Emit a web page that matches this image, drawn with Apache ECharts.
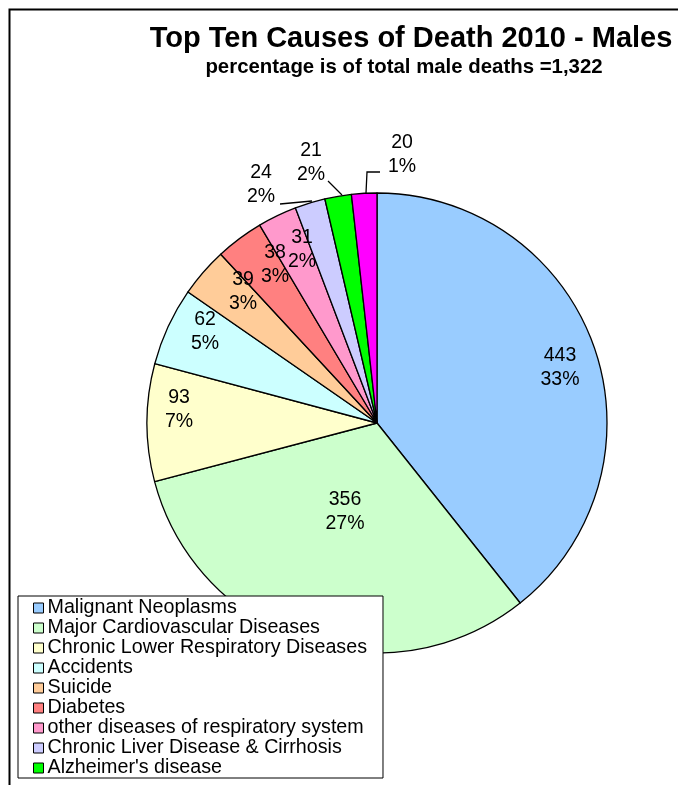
<!DOCTYPE html>
<html>
<head>
<meta charset="utf-8">
<script src="https://cdn.jsdelivr.net/npm/echarts@6/dist/echarts.min.js"></script>
<style>
  html, body { margin: 0; padding: 0; background: #fff; }
  #main { width: 678px; height: 785px; }
</style>
</head>
<body>
<div id="main"></div>
<script>
// chart data
var causes = [
  "Malignant Neoplasms",
  "Major Cardiovascular Diseases",
  "Chronic Lower Respiratory Diseases",
  "Accidents",
  "Suicide",
  "Diabetes",
  "other diseases of respiratory system",
  "Chronic Liver Disease & Cirrhosis",
  "Alzheimer's disease",
  "Influenza & Pneumonia"
];
var deaths = [443, 356, 93, 62, 39, 38, 31, 24, 21, 20];
var pctLabels = ["33%", "27%", "7%", "5%", "3%", "3%", "2%", "2%", "2%", "1%"];
var legendShown = causes.slice(0, 9);

var colors = ["#99CCFF", "#CCFFCC", "#FFFFCC", "#CCFFFF", "#FFCC99",
              "#FF8080", "#FF99CC", "#CCCCFF", "#00FF00", "#FF00FF"];

// label placement (pixel centres), Excel "best fit" style
var labelAt = [
  [560, 368], [345, 512], [179, 410], [205, 332], [243, 292],
  [275, 265], [302, 250], [261, 185], [311, 163], [402, 155]
];
// leader lines for the three labels outside the pie
var leaders = {
  7: [[280, 204], [312, 201]],
  8: [[328, 181], [342, 195]],
  9: [[380, 172], [367, 172], [366, 193]]
};

var font = "'Liberation Sans', Arial, sans-serif";

var chart = echarts.init(document.getElementById("main"));

var option = {
  backgroundColor: "#fff",
  animation: false,
  color: colors,
  title: [
    {
      text: "Top Ten Causes of Death 2010 - Males",
      left: 411, top: 22, textAlign: "center", padding: 0,
      textStyle: { fontFamily: font, fontWeight: "bold", fontSize: 29, color: "#000", lineHeight: 34 }
    },
    {
      text: "percentage is of total male deaths =1,322",
      left: 404, top: 55, textAlign: "center", padding: 0,
      textStyle: { fontFamily: font, fontWeight: "bold", fontSize: 20.4, color: "#000", lineHeight: 24 }
    }
  ],
  graphic: [
    {
      type: "rect", left: 7, top: 7, z: -1,
      shape: { width: 720, height: 820 },
      style: { fill: "none", stroke: "#000", lineWidth: 2 }
    }
  ],
  legend: {
    data: legendShown,
    orient: "vertical",
    align: "left",
    left: 18, top: 596,
    padding: [2, 16, 0, 15],
    itemGap: 0,
    itemWidth: 10, itemHeight: 10,
    icon: "rect",
    backgroundColor: "#fff",
    borderColor: "#000",
    borderWidth: 1,
    itemStyle: { borderColor: "#000", borderWidth: 1 },
    textStyle: { fontFamily: font, fontSize: 19.7, color: "#000", lineHeight: 19.6, padding: [0, 0, 0, -1] }
  },
  series: [
    {
      type: "pie",
      center: [377, 423],
      radius: 230,
      startAngle: 90,
      clockwise: true,
      avoidLabelOverlap: false,
      itemStyle: { borderColor: "#000", borderWidth: 1.3 },
      emphasis: { disabled: true },
      label: {
        show: true,
        position: "outside",
        fontFamily: font,
        fontSize: 19.5,
        lineHeight: 24,
        color: "#000",
        align: "center",
        formatter: function (p) { return p.value + "\n" + pctLabels[p.dataIndex]; }
      },
      labelLine: { show: false, lineStyle: { color: "#000", width: 1.3 } },
      labelLayout: function (p) {
        var i = p.dataIndex;
        var out = { x: labelAt[i][0], y: labelAt[i][1], align: "center", verticalAlign: "middle" };
        if (leaders[i]) out.labelLinePoints = leaders[i];
        return out;
      },
      data: causes.map(function (name, i) {
        var d = { name: name, value: deaths[i] };
        if (leaders[i]) d.labelLine = { show: true };
        return d;
      })
    }
  ]
};

chart.setOption(option);
</script>
</body>
</html>
